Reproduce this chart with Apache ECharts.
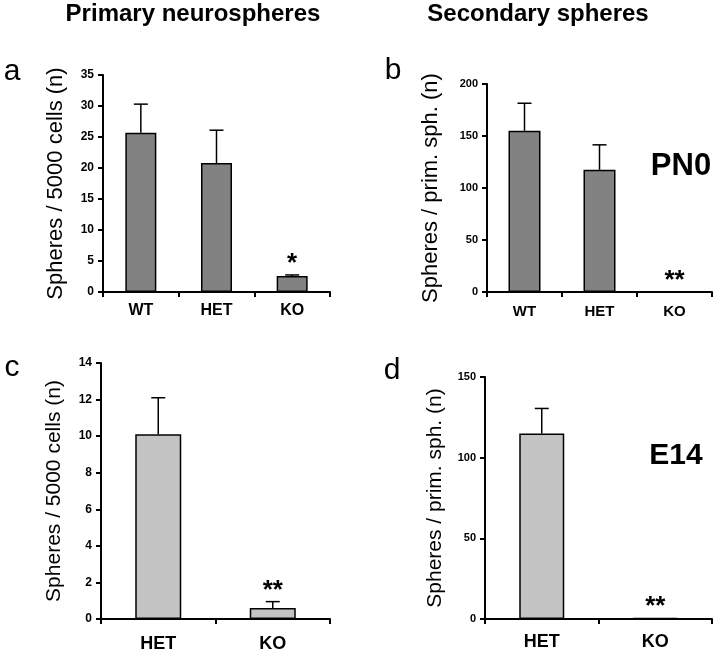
<!DOCTYPE html>
<html>
<head>
<meta charset="utf-8">
<script src="https://cdn.jsdelivr.net/npm/echarts@6/dist/echarts.min.js"></script>
<style>
html,body{margin:0;padding:0;background:#fff;}
#chart{width:720px;height:654px;}
</style>
</head>
<body>
<div id="chart"></div>
<script>
// ---- data ----
const catsAB = ['WT', 'HET', 'KO'];
const catsCD = ['HET', 'KO'];

const aMean = [25.7, 20.8, 2.6];
const aSD   = [4.6, 5.3, 0.15];
const aSig  = ['', '', '*'];

const bMean = [155, 117.5, 0];
const bSD   = [26.5, 24, 0];
const bSig  = ['', '', '**'];

const cMean = [10.1, 0.6];
const cSD   = [2.0, 0.35];
const cSig  = ['', '**'];

const dMean = [115, 0.5];
const dSD   = [15.5, 0];
const dSig  = ['', '**'];

const yMax  = [35, 200, 14, 150];
const yStep = [5, 50, 2, 50];

const headers = ['Primary neurospheres', 'Secondary spheres'];
const panelLetters = ['a', 'b', 'c', 'd'];
const yNames = ['Spheres / 5000 cells (n)', 'Spheres / prim. sph. (n)', 'Spheres / 5000 cells (n)', 'Spheres / prim. sph. (n)'];
const stageLabels = ['PN0', 'E14'];

// ---- chart ----
const FONT = 'Liberation Sans, Arial, sans-serif';
const chart = echarts.init(document.getElementById('chart'));

const grids = [
  {left: 103, top: 75, width: 227, height: 217},
  {left: 487, top: 84, width: 225, height: 208},
  {left: 101, top: 363, width: 229, height: 256},
  {left: 485, top: 377, width: 227, height: 242}
];
const nameGaps = [36, 45, 36, 39];
const nameSizes = [22, 22, 21, 21];
const catSizes = [16, 15, 18, 18];
const catMargins = [11, 12, 16, 14];
const tickSizes = [12, 11, 12, 11];
const barWidths = [31, 32, 46, 45];
const colors = ['#828282', '#828282', '#c4c4c4', '#c4c4c4'];

const means = [aMean, bMean, cMean, dMean];
const sds = [aSD, bSD, cSD, dSD];
const sigs = [aSig, bSig, cSig, dSig];
const cats = [catsAB, catsAB, catsCD, catsCD];

function errRender(m, s, g) {
  return function (params, api) {
    const i = api.value(0);
    const base = api.coord([i, m[i]]);
    const top = api.coord([i, m[i] + s[i]]);
    const x = base[0];
    const children = [];
    if (s[i] > 0) {
      children.push({type: 'line', shape: {x1: x, y1: base[1], x2: x, y2: top[1]}, style: {stroke: '#000', lineWidth: 1.5}});
      children.push({type: 'line', shape: {x1: x - 7, y1: top[1], x2: x + 7, y2: top[1]}, style: {stroke: '#000', lineWidth: 1.5}});
    }
    if (g[i]) {
      children.push({type: 'text', x: x, y: top[1] - 11,
        style: {text: g[i], font: 'bold 26px ' + FONT, fill: '#000', align: 'center', verticalAlign: 'middle'}});
    }
    return {type: 'group', children: children};
  };
}

const xAxes = [], yAxes = [], series = [];
for (let k = 0; k < 4; k++) {
  xAxes.push({
    type: 'category', gridIndex: k, data: cats[k], boundaryGap: true,
    axisLine: {lineStyle: {color: '#000', width: 2}},
    axisTick: {show: true, length: 5, lineStyle: {color: '#000', width: 2}},
    axisLabel: {color: '#000', fontWeight: 'bold', fontSize: catSizes[k], fontFamily: FONT, margin: catMargins[k]}
  });
  yAxes.push({
    type: 'value', gridIndex: k, min: 0, max: yMax[k], interval: yStep[k],
    name: yNames[k], nameLocation: 'middle', nameGap: nameGaps[k],
    nameTextStyle: {color: '#000', fontSize: nameSizes[k], fontFamily: FONT},
    axisLine: {show: true, lineStyle: {color: '#000', width: 2}},
    axisTick: {show: true, length: 5, lineStyle: {color: '#000', width: 2}},
    axisLabel: {color: '#000', fontWeight: 'bold', fontSize: tickSizes[k], fontFamily: FONT, margin: 9},
    splitLine: {show: false}
  });
  series.push({
    type: 'bar', xAxisIndex: k, yAxisIndex: k, data: means[k], barWidth: barWidths[k],
    itemStyle: {color: colors[k], borderColor: '#000', borderWidth: 1.5},
    silent: true, z: 2
  });
  series.push({
    type: 'custom', xAxisIndex: k, yAxisIndex: k, clip: false, z: 3, silent: true,
    data: means[k].map((v, i) => [i, v + sds[k][i]]),
    renderItem: errRender(means[k], sds[k], sigs[k])
  });
}

const graphic = [
  {type: 'text', x: 193, y: 14, style: {text: headers[0], font: 'bold 24px ' + FONT, fill: '#000', align: 'center', verticalAlign: 'middle'}},
  {type: 'text', x: 538, y: 14, style: {text: headers[1], font: 'bold 24px ' + FONT, fill: '#000', align: 'center', verticalAlign: 'middle'}},
  {type: 'text', x: 12, y: 72, style: {text: panelLetters[0], font: '30px ' + FONT, fill: '#000', align: 'center', verticalAlign: 'middle'}},
  {type: 'text', x: 393, y: 71, style: {text: panelLetters[1], font: '30px ' + FONT, fill: '#000', align: 'center', verticalAlign: 'middle'}},
  {type: 'text', x: 12, y: 368, style: {text: panelLetters[2], font: '30px ' + FONT, fill: '#000', align: 'center', verticalAlign: 'middle'}},
  {type: 'text', x: 392, y: 371, style: {text: panelLetters[3], font: '30px ' + FONT, fill: '#000', align: 'center', verticalAlign: 'middle'}},
  {type: 'text', x: 681, y: 166, style: {text: stageLabels[0], font: 'bold 31px ' + FONT, fill: '#000', align: 'center', verticalAlign: 'middle'}},
  {type: 'text', x: 676, y: 456, style: {text: stageLabels[1], font: 'bold 30px ' + FONT, fill: '#000', align: 'center', verticalAlign: 'middle'}}
];

chart.setOption({
  backgroundColor: '#fff',
  animation: false,
  textStyle: {fontFamily: FONT},
  grid: grids.map(g => Object.assign({containLabel: false}, g)),
  xAxis: xAxes,
  yAxis: yAxes,
  series: series,
  graphic: graphic
});
</script>
</body>
</html>
